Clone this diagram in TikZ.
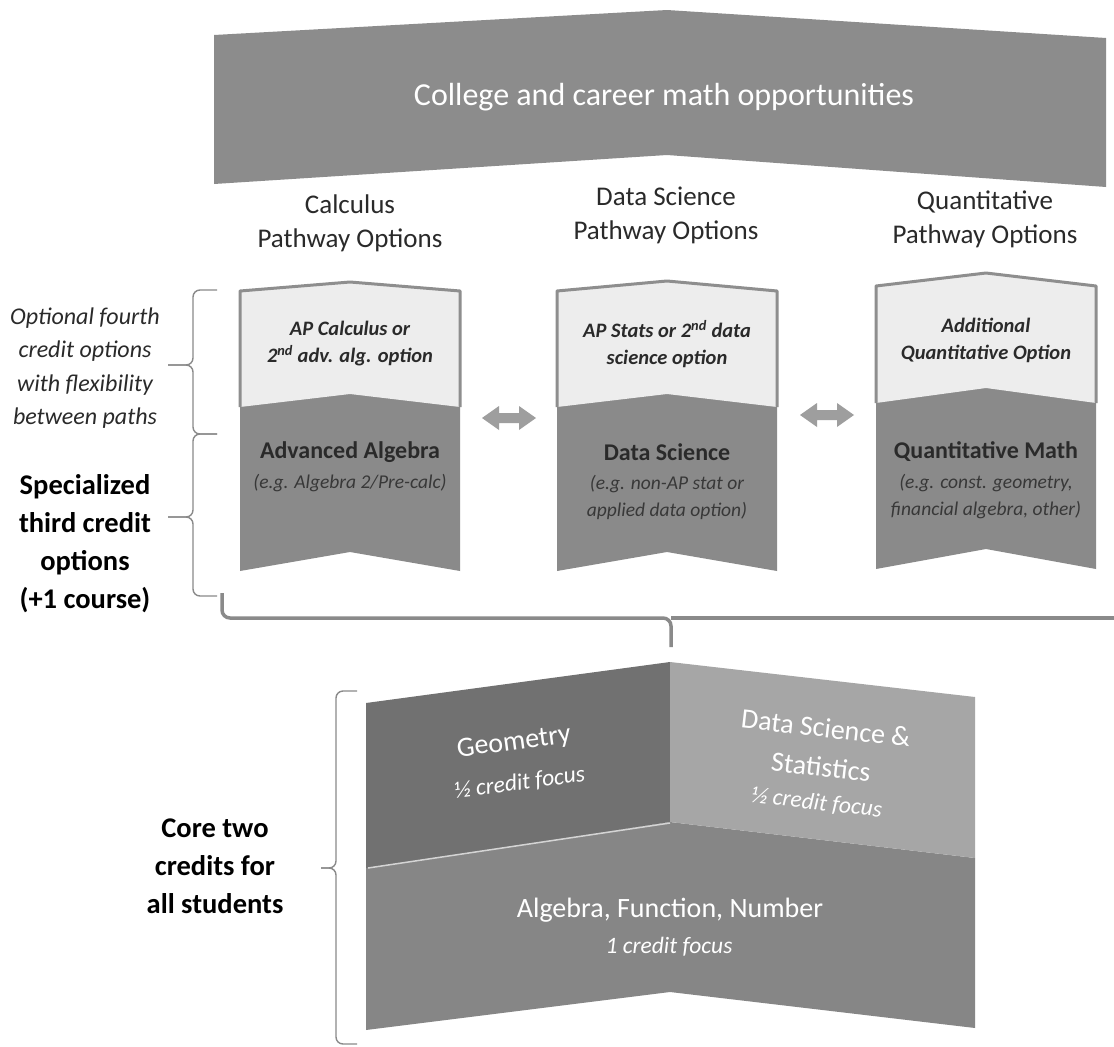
\documentclass[tikz,border=0pt]{standalone}
\usepackage{fontspec}
\setmainfont{Carlito}
\definecolor{banner}{HTML}{8C8C8C}
\definecolor{ribdark}{HTML}{8A8A8A}
\definecolor{riblight}{HTML}{EDEDED}
\definecolor{ribborder}{HTML}{8E8E8E}
\definecolor{arrowgrey}{HTML}{9E9E9E}
\definecolor{bracegrey}{HTML}{8A8A8A}
\definecolor{geomgrey}{HTML}{717171}
\definecolor{datagrey}{HTML}{A6A6A6}
\definecolor{alggrey}{HTML}{868686}
\definecolor{darktxt}{HTML}{2A2A2A}
\definecolor{subtxtc}{HTML}{383838}
\newcommand\myribbon[8]{%
  \fill[ribdark] (#1,#3) -- ({(#1+#2)/2},#4) -- (#2,#3) -- (#2,#7) -- ({(#1+#2)/2},#8) -- (#1,#7) -- cycle;
  \fill[riblight] (#1,#3) -- ({(#1+#2)/2},#4) -- (#2,#3) -- (#2,#5) -- ({(#1+#2)/2},#6) -- (#1,#5) -- cycle;
  \draw[ribborder, line width=3pt, line join=round] (#1,#5) -- (#1,#3) -- ({(#1+#2)/2},#4) -- (#2,#3) -- (#2,#5);
}
\tikzset{
  title/.style={font=\fontsize{32}{36}\selectfont, text=white},
  hdr/.style={font=\fontsize{27}{34}\selectfont, text=darktxt, align=center},
  sidenote/.style={font=\fontsize{24}{33.5}\selectfont\itshape, text=darktxt, align=center},
  sidebold/.style={font=\fontsize{28.5}{38}\selectfont\bfseries, text=black, align=center},
  toptxt/.style={font=\fontsize{20.5}{27}\selectfont\bfseries\itshape, text=darktxt, align=center},
  maintxt/.style={font=\fontsize{24}{28}\selectfont\bfseries, text=darktxt, align=center},
  subtxt/.style={font=\fontsize{19.5}{27}\selectfont\itshape, text=subtxtc, align=center},
  paneltxt/.style={font=\fontsize{28}{39}\selectfont, text=white, align=center},
  panelsub/.style={font=\fontsize{23.5}{28}\selectfont\itshape, text=white, align=center},
  brc/.style={draw=bracegrey, line width=1.4pt, rounded corners=7pt},
  bigbrc/.style={draw=bracegrey, line width=3.5pt, rounded corners=8pt},
  dblarrow/.style={fill=arrowgrey, draw=none}
}
\begin{document}
\begin{tikzpicture}[x=1pt,y=-1pt]
\useasboundingbox (0,0) rectangle (1114,1047);
\fill[white] (0,0) rectangle (1114,1047);

% Banner
\fill[banner] (214,35) -- (667,10) -- (1106,38) -- (1106,187) -- (667,155) -- (214,184) -- cycle;
\node[title] (title) at (664,97) {College and career math opportunities};

% Pathway headers
\node[hdr] (hcalc) at (350,223) {Calculus\\Pathway Options};
\node[hdr] (hdata) at (666,215) {Data Science\\Pathway Options};
\node[hdr] (hquant) at (985,219) {Quantitative\\Pathway Options};

% Ribbons
\myribbon{240}{460}{291}{282}{407}{394}{571}{552}
\myribbon{557}{777}{291}{281}{407}{394}{571}{552}
\myribbon{876}{1096}{286}{273}{403}{388}{569}{549}

\node[toptxt] (apcalc) at (350,344) {AP Calculus or\\2\textsuperscript{nd} adv. alg. option};
\node[maintxt] (advalg) at (350,452) {Advanced Algebra};
\node[subtxt] (advalgsub) at (350,483) {(e.g. Algebra 2/Pre-calc)};

\node[toptxt] (apstats) at (667,344) {AP Stats or 2\textsuperscript{nd} data\\science option};
\node[maintxt] (datasci) at (667,452) {Data Science};
\node[subtxt] (datascisub) at (667,497) {(e.g. non-AP stat or\\applied data option)};

\node[toptxt] (addq) at (986,340) {Additional\\Quantitative Option};
\node[maintxt] (qmath) at (986,452) {Quantitative Math};
\node[subtxt] (qmathsub) at (986,497) {(e.g. const. geometry,\\financial algebra, other)};

% Double arrows between ribbons
\coordinate (a1) at (509,418);
\coordinate (a2) at (827,415);
\foreach \c in {a1,a2}{
  \fill[dblarrow] ([xshift=-27pt]\c) -- ([xshift=-10pt,yshift=-12pt]\c) -- ([xshift=-10pt,yshift=-5pt]\c)
    -- ([xshift=10pt,yshift=-5pt]\c) -- ([xshift=10pt,yshift=-12pt]\c) -- ([xshift=27pt]\c)
    -- ([xshift=10pt,yshift=12pt]\c) -- ([xshift=10pt,yshift=5pt]\c) -- ([xshift=-10pt,yshift=5pt]\c)
    -- ([xshift=-10pt,yshift=12pt]\c) -- cycle;
}

% Left annotations
\node[sidenote] (opt4) at (85,368) {Optional fourth\\credit options\\with flexibility\\between paths};
\node[sidebold] (spec3) at (85,544) {Specialized\\third credit\\options\\(+1 course)};
\node[sidebold] (core2) at (215,866) {Core two\\credits for\\all students};

% Braces on the left
\draw[brc] (217,290) -- (193,290) -- (193,365) -- (168,365);
\draw[brc] (168,365) -- (193,365) -- (193,434) -- (217,434);
\draw[brc] (217,434) -- (193,434) -- (193,517) -- (168,517);
\draw[brc] (168,517) -- (193,517) -- (193,596) -- (217,596);

% Large bracket under ribbons
\coordinate (bkL) at (222,593);
\coordinate (bkR) at (1114,618);
\coordinate (bkTip) at (671,647);
\draw[bigbrc] (bkL) -- (222,618) -- (671,618) -- (bkTip);
\draw[bigbrc] (671,618) -- (bkR);

% Core structure
\fill[alggrey] (366,866) -- (670,822) -- (975,858) -- (975,1028) -- (670,992) -- (366,1030) -- cycle;
\fill[geomgrey] (366,703) -- (670,662) -- (670,822) -- (366,868) -- cycle;
\fill[datagrey] (670,662) -- (975,697) -- (975,858) -- (670,822) -- cycle;
\draw[white!70!geomgrey, line width=1.5pt] (368,868) -- (670,823);

\node[paneltxt, rotate=7.5, inner sep=1pt] (geom) at (514,743) {Geometry};
\node[panelsub, rotate=7.5, inner sep=1pt] (geomsub) at (520,783) {½ credit focus};
\node[paneltxt, rotate=-6.5, inner sep=1pt] (dss) at (826,728) {Data Science \&};
\node[paneltxt, rotate=-6.5, inner sep=1pt] (stats) at (821,767) {Statistics};
\node[panelsub, rotate=-6.5, inner sep=1pt] (dsssub) at (817,803) {½ credit focus};
\node[paneltxt] (alg) at (670,910) {Algebra, Function, Number};
\node[panelsub] (algsub) at (669,947) {1 credit focus};

% Brace for core
\draw[brc] (357,691) -- (336,691) -- (336,868) -- (321,868);
\draw[brc] (321,868) -- (336,868) -- (336,1044) -- (357,1044);
\end{tikzpicture}
\end{document}
